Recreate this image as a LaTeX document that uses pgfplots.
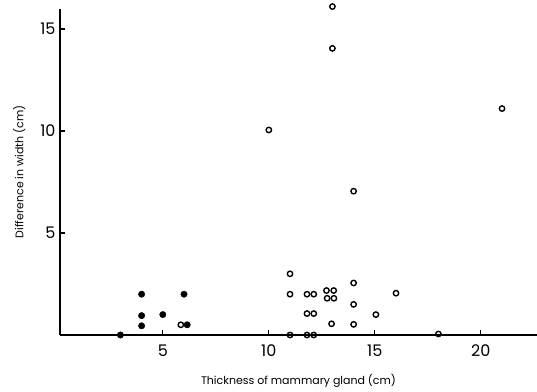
\documentclass[border=0pt]{standalone}
\usepackage{fontspec}
\setmainfont{Poppins}
\usepackage{pgfplots}
\pgfplotsset{compat=1.18}
\begin{document}
\begin{tikzpicture}
\begin{axis}[
  name=ax, at={(0,0)}, anchor=south west,
  scale only axis, width=477bp, height=326.4bp,
  xmin=0.15, xmax=22.65, ymin=0, ymax=16,
  axis lines=left, axis line style={line width=1.2pt, -},
  xtick={5,10,15,20}, ytick={5,10,15},
  tick align=inside, major tick length=5bp,
  tick style={line width=1.1pt, black},
  /pgf/number format/assume math mode=true,
  ticklabel style={font=\fontsize{16bp}{18bp}\selectfont},
  xticklabel style={yshift=-6bp},
  yticklabel style={xshift=-1bp},
  xlabel={Thickness of mammary gland (cm)},
  ylabel={Difference in width (cm)},
  label style={font=\fontsize{11bp}{13bp}\selectfont},
  xlabel style={yshift=-11bp},
  ylabel style={yshift=8bp},
  clip=false,
]
\addplot[only marks, mark=*, mark size=3.2bp, mark options={fill=black, draw=black}] coordinates {
 (3,0) (4,2) (6,2) (4,0.95) (5,1.0) (4,0.45) (6.15,0.5)
};
\addplot[only marks, mark=o, mark size=2.7bp, mark options={fill=white, draw=black, line width=1.4pt}] coordinates {
 (5.85,0.5)
 (11,3) (11,2) (11.8,2) (12.12,2) (11.8,1.05) (12.12,1.05)
 (11,0) (11.8,0) (12.12,0)
 (12.72,2.18) (13.06,2.18) (12.75,1.8) (13.07,1.8)
 (12.96,0.55) (14,2.55) (14,1.5) (14,0.52) (15.05,1.0) (16,2.05) (18,0.05)
 (13,16.1) (13,14.05) (10,10.05) (14,7.05) (21,11.1)
};
\end{axis}
\pgfresetboundingbox
\path ([shift={(-60bp,-57bp)}]ax.south west) rectangle ([shift={(0bp,8.6bp)}]ax.north east);
\end{tikzpicture}
\end{document}
